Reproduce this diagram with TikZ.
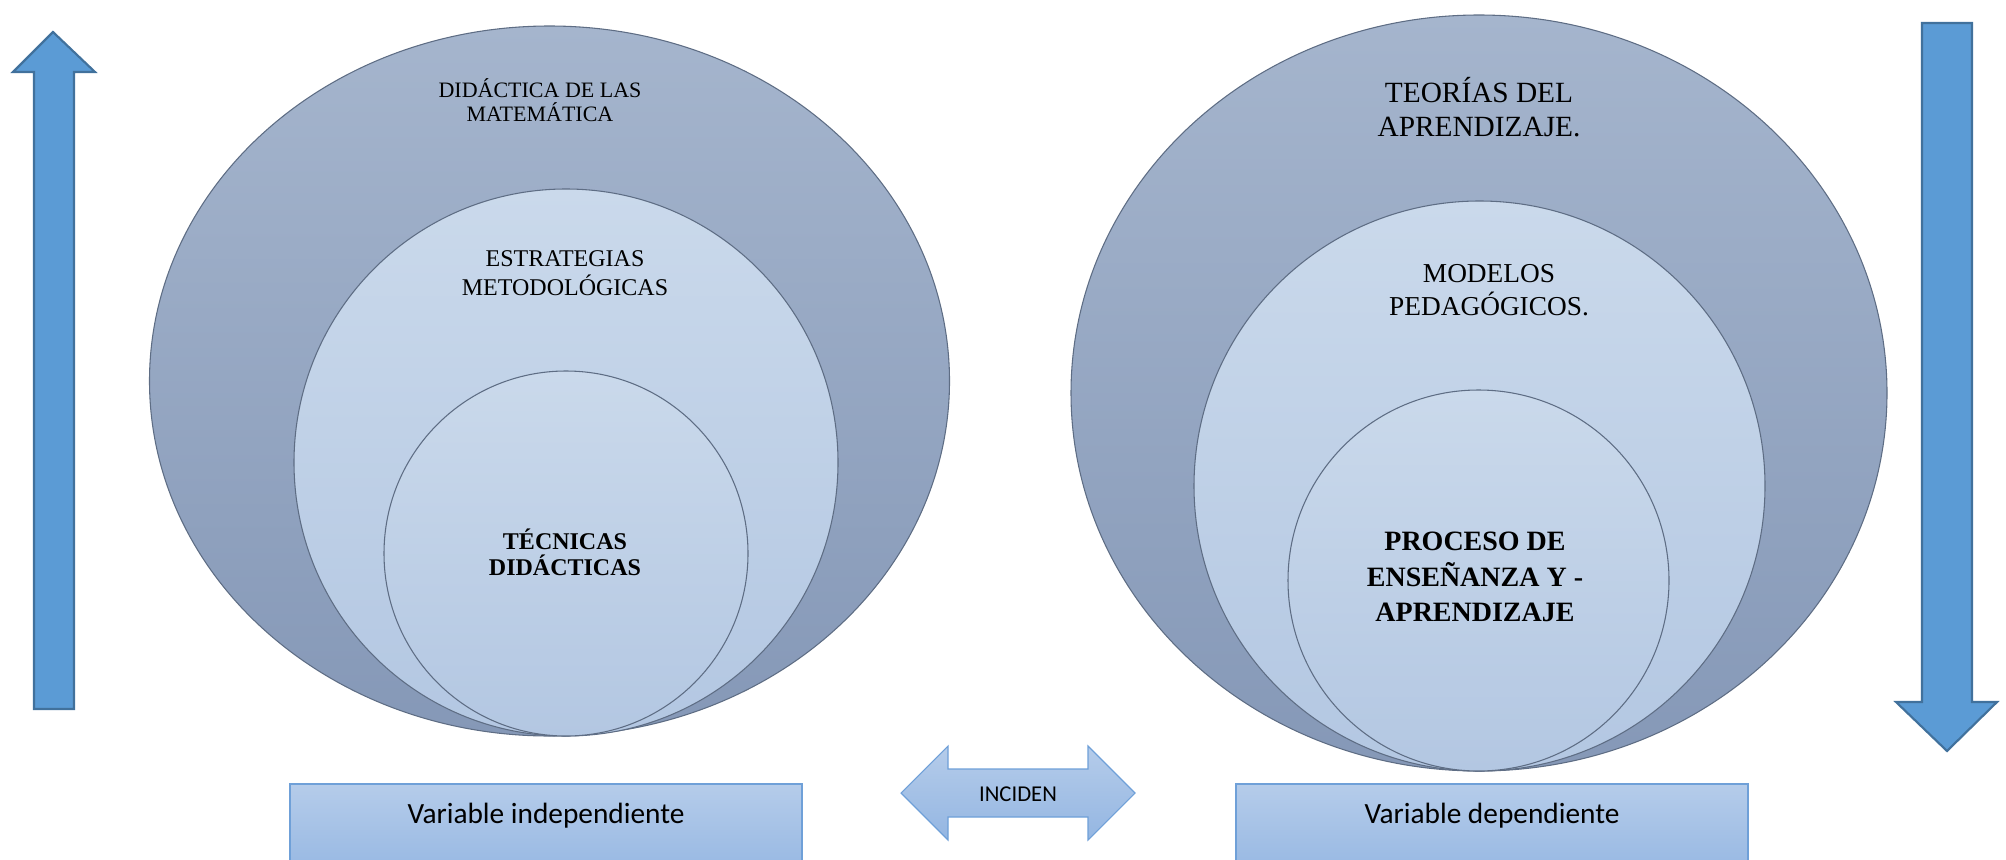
\documentclass[tikz,border=0pt]{standalone}
\usepackage{fontspec}
\setmainfont{Liberation Serif}
\newfontfamily\boxfont{Carlito}
\begin{document}
\begin{tikzpicture}[x=0.75pt,y=-0.75pt,
  outerring/.style={draw=ringedge,line width=0.8pt,top color=outertop,bottom color=outerbot},
  innerring/.style={draw=ringedge,line width=0.8pt,top color=innertop,bottom color=innerbot},
  bluearrow/.style={draw=arrowedge,line width=1.6pt,fill=arrowfill,line join=miter},
  varbox/.style={draw=boxedge,line width=0.8pt,top color=boxtop,bottom color=boxbot},
  ringtext/.style={align=center,font=\fontsize{16.5}{18.5}\selectfont,inner sep=0pt},
  midtext/.style={align=center,font=\fontsize{18}{22}\selectfont,inner sep=0pt},
  bigtext/.style={align=center,font=\fontsize{22}{26}\selectfont,inner sep=0pt},
  modeltext/.style={align=center,font=\fontsize{20.5}{25}\selectfont,inner sep=0pt},
  boldtext/.style={align=center,font=\bfseries\fontsize{18}{19.5}\selectfont,inner sep=0pt},
  boldbig/.style={align=center,font=\bfseries\fontsize{21}{26.5}\selectfont,inner sep=0pt},
  labeltext/.style={font=\boxfont\fontsize{22}{24}\selectfont,inner sep=0pt}]
\definecolor{ringedge}{HTML}{5E6D84}
\definecolor{outertop}{HTML}{A5B5CD}
\definecolor{outerbot}{HTML}{8598B7}
\definecolor{innertop}{HTML}{CAD9EB}
\definecolor{innerbot}{HTML}{B3C7E2}
\definecolor{arrowfill}{HTML}{5B9BD5}
\definecolor{arrowedge}{HTML}{41719C}
\definecolor{boxedge}{HTML}{6FA0D8}
\definecolor{boxtop}{HTML}{B5CCEA}
\definecolor{boxbot}{HTML}{94B6E2}
\useasboundingbox (0,0) rectangle (2006,860);
\clip (0,0) rectangle (2006,860);

% left group of nested rings
\draw[outerring] (549.5,381) ellipse [x radius=400, y radius=355];
\draw[innerring] (566,462.5) ellipse [x radius=272, y radius=273.5];
\draw[innerring] (566,553.5) ellipse [x radius=182, y radius=182.5];
\node[ringtext] (lt1) at (540,100) {DIDÁCTICA DE LAS\\MATEMÁTICA};
\node[midtext] (lt2) at (565,273) {ESTRATEGIAS\\METODOLÓGICAS};
\node[boldtext] (lt3) at (565,552) {TÉCNICAS\\DIDÁCTICAS};

% right group of nested rings
\draw[outerring] (1479,393) ellipse [x radius=408, y radius=378];
\draw[innerring] (1479.5,486) ellipse [x radius=285.5, y radius=285];
\draw[innerring] (1478.5,580.5) ellipse [x radius=190.5, y radius=190.5];
\node[bigtext] (rt1) at (1479,107) {TEORÍAS DEL\\APRENDIZAJE.};
\node[modeltext] (rt2) at (1489,290) {MODELOS\\PEDAGÓGICOS.};
\node[boldbig] (rt3) at (1475,577) {PROCESO DE\\ENSEÑANZA Y -\\APRENDIZAJE};

% upward arrow on the left
\draw[bluearrow] (53,32) -- (95,72) -- (74,72) -- (74,709) -- (34,709)
  -- (34,72) -- (13,72) -- cycle;
% downward arrow on the right
\draw[bluearrow] (1922,23) -- (1972,23) -- (1972,702) -- (1997,702)
  -- (1947,751) -- (1896,702) -- (1922,702) -- cycle;

% variable boxes
\draw[varbox] (290,784) rectangle (802,880);
\node[labeltext] (vi) at (546,816) {Variable independiente};
\draw[varbox] (1236,784) rectangle (1748,880);
\node[labeltext] (vd) at (1492,816) {Variable dependiente};

% double arrow between the boxes
\draw[varbox,line join=miter] (901,793) -- (948,746) -- (948,769) -- (1088,769)
  -- (1088,746) -- (1135,793) -- (1088,840) -- (1088,817) -- (948,817)
  -- (948,840) -- cycle;
\node[labeltext,font=\boxfont\fontsize{17}{19}\selectfont] (inc) at (1018,794) {INCIDEN};
\end{tikzpicture}
\end{document}
